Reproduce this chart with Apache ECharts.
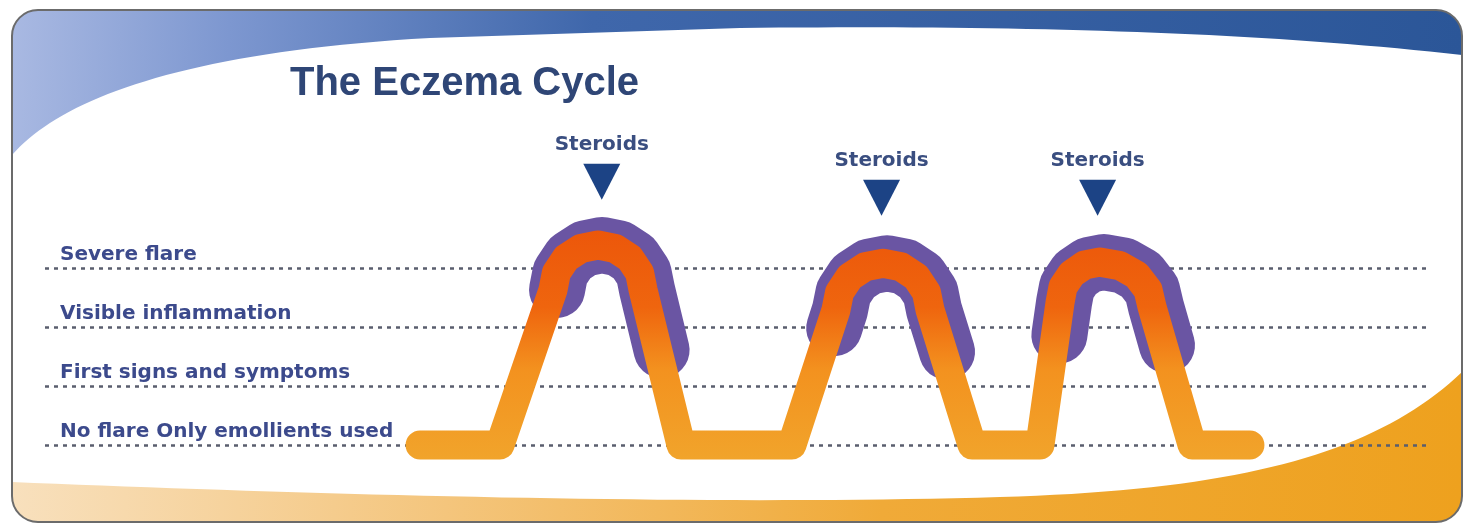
<!DOCTYPE html>
<html>
<head>
<meta charset="utf-8">
<script src="https://cdn.jsdelivr.net/npm/echarts@6/dist/echarts.min.js"></script>
<style>
  html, body { margin: 0; padding: 0; background: #ffffff; }
  #chart { width: 1468px; height: 527px; }
</style>
</head>
<body>
<div id="chart"></div>
<script>
// ---- data ----
const levels = ['No flare Only emollients used', 'First signs and symptoms', 'Visible inflammation', 'Severe flare'];

// eczema severity over time (time in arbitrary weeks, severity in levels 0..3+)
const weeks = [27.08, 32.85,
               36.68, 36.92, 37.63, 38.69, 39.93, 41.17, 42.22, 42.93, 43.18,
               45.92, 53.93,
               57.11, 57.37, 58.11, 59.21, 60.51, 61.81, 62.9, 63.64, 63.9,
               66.93, 71.84,
               73.29, 73.5, 74.13, 75.06, 76.17, 77.61, 78.82, 79.64, 79.93,
               82.82, 87.0];
const severity = [0, 0,
                  2.63, 2.92, 3.17, 3.33, 3.39, 3.33, 3.17, 2.92, 2.63,
                  0, 0,
                  2.29, 2.59, 2.85, 3.02, 3.08, 3.02, 2.85, 2.59, 2.29,
                  0, 0,
                  2.42, 2.68, 2.9, 3.05, 3.1, 3.04, 2.88, 2.63, 2.34,
                  0, 0];

// flare phases treated with steroids (purple band), one array per flare
const flare1Weeks = [36.97, 37.21, 37.92, 38.98, 40.22, 41.46, 42.51, 43.22, 43.47, 44.52];
const flare1Level = [2.63, 2.92, 3.17, 3.33, 3.39, 3.33, 3.17, 2.92, 2.63, 1.61];
const flare2Weeks = [56.98, 57.4, 57.66, 58.4, 59.5, 60.8, 62.1, 63.19, 63.93, 64.19, 65.13];
const flare2Level = [1.98, 2.29, 2.59, 2.85, 3.02, 3.08, 3.02, 2.85, 2.59, 2.29, 1.58];
const flare3Weeks = [73.24, 73.58, 73.79, 74.42, 75.35, 76.46, 77.9, 79.11, 79.93, 80.22, 81.01];
const flare3Level = [1.86, 2.42, 2.68, 2.9, 3.05, 3.1, 3.04, 2.88, 2.63, 2.34, 1.69];

// steroid treatment markers
const steroidWeeks = [40.2, 60.4, 76.0];
const steroidLevel = [4.46, 4.19, 4.19];
const steroidLabel = 'Steroids';

const titleText = 'The Eczema Cycle';

// ---- build ----
const mainLine = weeks.map((w, i) => [w, severity[i]]);
const toPairs = (a, b) => a.map((w, i) => [w, b[i]]);
const flareLine = [].concat(
  toPairs(flare1Weeks, flare1Level), [[null, null]],
  toPairs(flare2Weeks, flare2Level), [[null, null]],
  toPairs(flare3Weeks, flare3Level)
);
const steroidPts = steroidWeeks.map((w, i) => [w, steroidLevel[i]]);

// decorative frame helpers (sampling bezier curves into polygon points)
function cubic(p0, p1, p2, p3, n) {
  const out = [];
  for (let i = 0; i <= n; i++) {
    const t = i / n, u = 1 - t;
    out.push([
      u*u*u*p0[0] + 3*u*u*t*p1[0] + 3*u*t*t*p2[0] + t*t*t*p3[0],
      u*u*u*p0[1] + 3*u*u*t*p1[1] + 3*u*t*t*p2[1] + t*t*t*p3[1]
    ]);
  }
  return out;
}
function corner(cx, cy, r, a0, a1, n) {
  const out = [];
  for (let i = 0; i <= n; i++) {
    const a = a0 + (a1 - a0) * i / n;
    out.push([cx + r * Math.cos(a), cy + r * Math.sin(a)]);
  }
  return out;
}
const R = 26, L = 12, T = 10, Rt = 1462, B = 522;
const bluePts = [].concat(
  cubic([L, 155], [60, 100], [180, 52], [430, 38], 40),
  [[740, 28]],
  cubic([740, 28], [1000, 25], [1250, 31], [Rt, 55], 40),
  corner(Rt - R, T + R, R, 0, -Math.PI / 2, 12),
  corner(L + R, T + R, R, -Math.PI / 2, -Math.PI, 12)
);
const orangePts = [].concat(
  cubic([L, 482], [300, 494], [700, 506], [1000, 497], 40),
  cubic([1000, 497], [1250, 490], [1380, 450], [Rt, 372], 40),
  corner(Rt - R, B - R, R, 0, Math.PI / 2, 12),
  corner(L + R, B - R, R, Math.PI / 2, Math.PI, 12)
);

const chart = echarts.init(document.getElementById('chart'), null, { renderer: 'canvas' });

const orangeGrad = {
  type: 'linear', x: 0, y: 225, x2: 0, y2: 460, global: true,
  colorStops: [
    { offset: 0, color: '#ec560a' },
    { offset: 0.35, color: '#ef650e' },
    { offset: 0.62, color: '#f3921f' },
    { offset: 1, color: '#f1a42b' }
  ]
};

const option = {
  backgroundColor: '#ffffff',
  animation: false,
  title: {
    text: titleText,
    left: 290, top: 64, padding: 0,
    textStyle: { fontFamily: 'Liberation Sans, Arial, sans-serif', fontWeight: 'bold', fontSize: 40, color: '#2f4676' }
  },
  graphic: [
    {
      type: 'polygon', z: -20, silent: true,
      shape: { points: bluePts },
      style: {
        fill: {
          type: 'linear', x: 0, y: 0, x2: 1, y2: 0.3,
          colorStops: [
            { offset: 0, color: '#a9b9e2' },
            { offset: 0.15, color: '#7d97d0' },
            { offset: 0.4, color: '#3f67ab' },
            { offset: 1, color: '#2b5698' }
          ]
        }
      }
    },
    {
      type: 'polygon', z: -20, silent: true,
      shape: { points: orangePts },
      style: {
        fill: {
          type: 'linear', x: 0, y: 0, x2: 1, y2: 0,
          colorStops: [
            { offset: 0, color: '#f8e0bd' },
            { offset: 0.3, color: '#f4c57c' },
            { offset: 0.6, color: '#f0aa38' },
            { offset: 1, color: '#eea11e' }
          ]
        }
      }
    },
    {
      type: 'rect', z: -10, silent: true,
      shape: { x: L, y: T, width: Rt - L, height: B - T, r: R },
      style: { fill: 'transparent', stroke: '#6b6b6b', lineWidth: 2 }
    }
  ],
  grid: { left: 45, right: 38, top: 268, bottom: 82, containLabel: false },
  xAxis: {
    type: 'value', min: 0, max: 100, show: false
  },
  yAxis: {
    type: 'value', min: 0, max: 3, interval: 1, z: 5,
    axisLine: { show: false }, axisTick: { show: false },
    axisLabel: {
      inside: true, margin: 15, showMinLabel: true, showMaxLabel: true,
      verticalAlign: 'bottom', align: 'left', padding: [0, 0, 3, 0],
      formatter: v => levels[v] || '',
      fontFamily: 'DejaVu Sans, sans-serif', fontWeight: 'bold', fontSize: 20, color: '#3c4a8c'
    },
    splitLine: { show: true, lineStyle: { type: [4, 5], width: 2.5, color: '#5a5e6e' } }
  },
  series: [
    {
      name: 'Flare', type: 'line', data: flareLine, z: 10, clip: false,
      smooth: false, showSymbol: false, connectNulls: false,
      lineStyle: { width: 56, color: '#6a55a3', cap: 'round', join: 'round' }
    },
    {
      name: 'Eczema severity', type: 'line', data: mainLine, z: 11, clip: false,
      smooth: false, showSymbol: false,
      lineStyle: { width: 29, color: orangeGrad, cap: 'round', join: 'round' }
    },
    {
      name: 'Steroids', type: 'scatter', data: steroidPts, z: 12, clip: false,
      symbol: 'triangle', symbolRotate: 180, symbolSize: [37, 36],
      itemStyle: { color: '#1c4385', opacity: 1 },
      label: {
        show: true, position: 'top', distance: 9, formatter: steroidLabel,
        fontFamily: 'DejaVu Sans, sans-serif', fontWeight: 'bold', fontSize: 20, color: '#3a4e80'
      }
    }
  ]
};
chart.setOption(option);
</script>
</body>
</html>
